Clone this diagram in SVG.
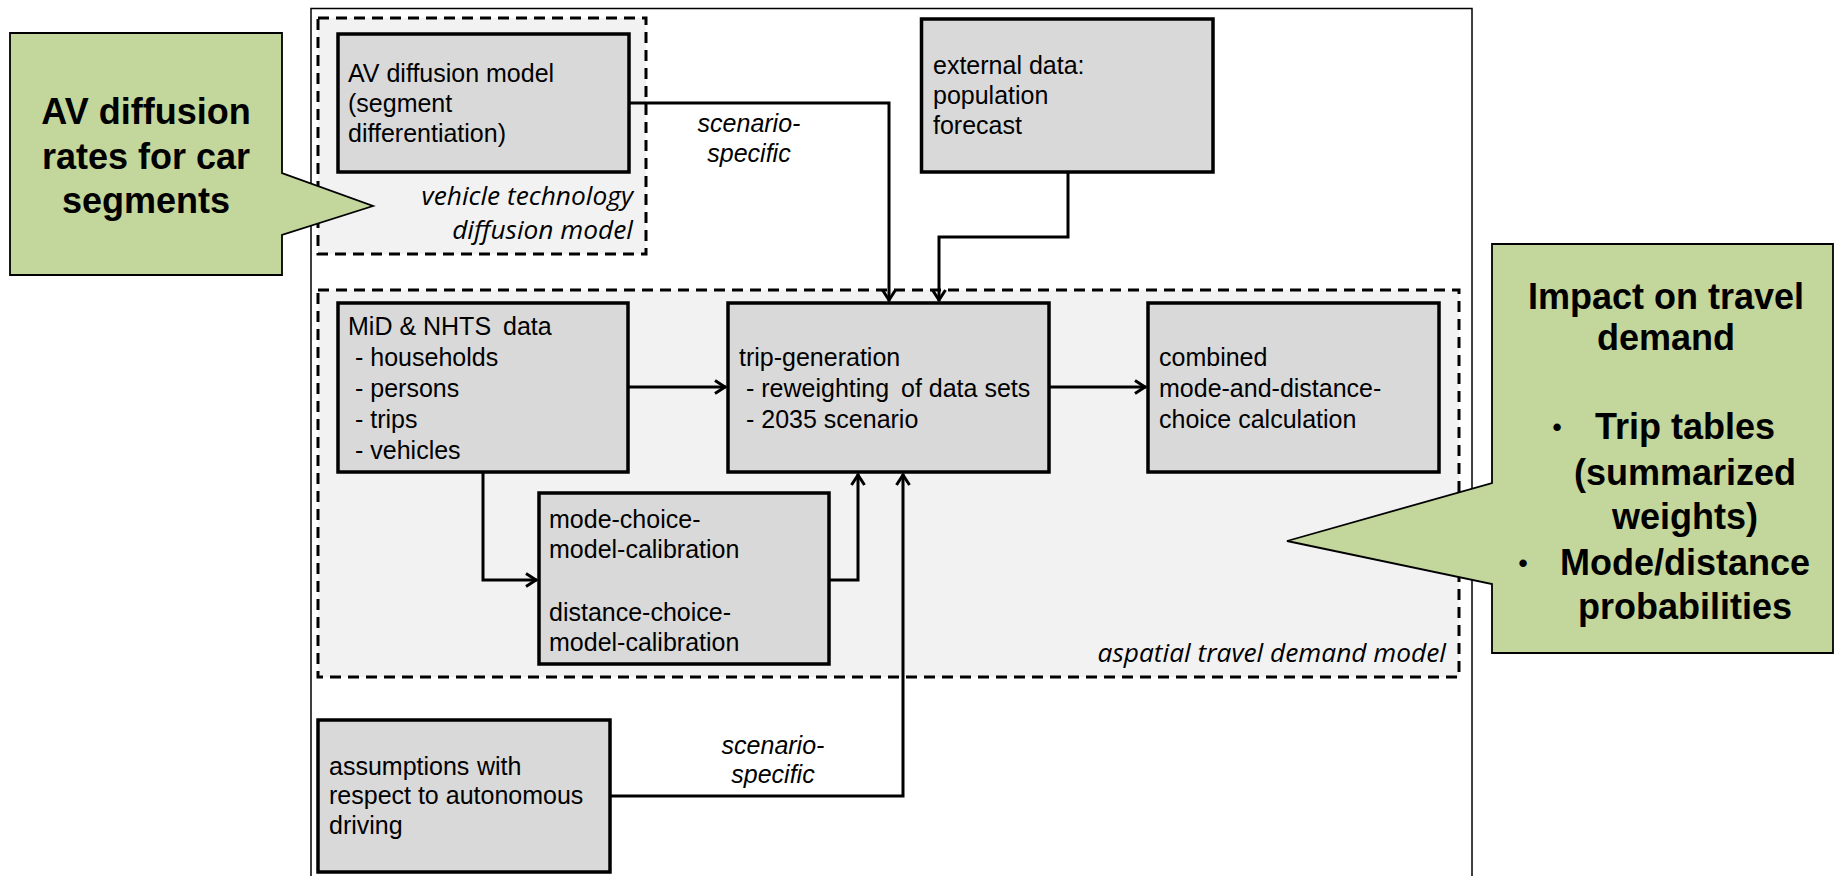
<svg xmlns="http://www.w3.org/2000/svg" width="1835" height="876" viewBox="0 0 1835 876">
<style>
.frame{fill:#fff;stroke:#000;stroke-width:1.5}
.cont{fill:#f2f2f2;stroke:#000;stroke-width:3;stroke-dasharray:11 7}
.node{fill:#d9d9d9;stroke:#000;stroke-width:3.5}
.t{font-family:"Liberation Sans",Arial,sans-serif;font-size:25px;fill:#000}
.it{font-family:"Liberation Sans",Arial,sans-serif;font-size:25px;font-style:italic;fill:#000;text-anchor:middle}
.ct{font-family:"Open Sans","DejaVu Sans",sans-serif;font-size:26.3px;font-style:italic;fill:#000;text-anchor:end}
.conn{fill:none;stroke:#000;stroke-width:3}
.call{fill:#c3d69b;stroke:#000;stroke-width:1.8}
.cb{font-family:"Liberation Sans",Arial,sans-serif;font-size:36px;font-weight:bold;fill:#000;text-anchor:middle}
.bul{font-family:"Liberation Sans",Arial,sans-serif;font-size:26px;font-weight:bold;fill:#000;text-anchor:middle}
</style>
<defs>
<marker id="arr" markerUnits="userSpaceOnUse" markerWidth="16" markerHeight="16" viewBox="-13 -8 16 16" refX="0" refY="0" orient="auto">
<path d="M-11,-6.5 L-1,0 L-11,6.5" fill="none" stroke="#000" stroke-width="3"/>
</marker>
</defs>
<rect class="frame" x="311" y="8.5" width="1161" height="900"/>
<g id="container-vehicle">
<rect class="cont" x="318" y="18" width="328" height="236"/>
<text class="ct"><tspan x="633" y="205">vehicle technology</tspan><tspan x="633" y="239">diffusion model</tspan></text>
</g>
<g id="container-aspatial">
<rect class="cont" x="318" y="290" width="1141" height="387"/>
<text class="ct" x="1446" y="662">aspatial travel demand model</text>
</g>
<g id="connectors">
<path class="conn" d="M629,103 H889 V301" marker-end="url(#arr)"/>
<path class="conn" d="M1068,172 V237 H939 V301" marker-end="url(#arr)"/>
<path class="conn" d="M628,387 H726" marker-end="url(#arr)"/>
<path class="conn" d="M1049,387 H1146" marker-end="url(#arr)"/>
<path class="conn" d="M483,472 V580 H537" marker-end="url(#arr)"/>
<path class="conn" d="M829,580 H858 V474" marker-end="url(#arr)"/>
<path class="conn" d="M610,796 H903 V474" marker-end="url(#arr)"/>
<text class="it"><tspan x="749" y="132">scenario-</tspan><tspan x="749" y="162">specific</tspan></text>
<text class="it"><tspan x="773" y="754">scenario-</tspan><tspan x="773" y="783">specific</tspan></text>
</g>
<g id="node-av">
<rect class="node" x="338" y="34" width="291" height="138"/>
<text class="t"><tspan x="348" y="82">AV diffusion model</tspan><tspan x="348" y="112">(segment</tspan><tspan x="348" y="142">differentiation)</tspan></text>
</g>
<g id="node-external">
<rect class="node" x="921.5" y="19" width="291.5" height="153"/>
<text class="t"><tspan x="933" y="74">external data:</tspan><tspan x="933" y="104">population</tspan><tspan x="933" y="134">forecast</tspan></text>
</g>
<g id="node-mid">
<rect class="node" x="338" y="303" width="290" height="169"/>
<text class="t"><tspan x="348" y="335">MiD &amp; NHTS</tspan><tspan x="503" y="335">data</tspan><tspan x="355" y="366">- households</tspan><tspan x="355" y="397">- persons</tspan><tspan x="355" y="428">- trips</tspan><tspan x="355" y="459">- vehicles</tspan></text>
</g>
<g id="node-tripgen">
<rect class="node" x="728" y="303" width="321" height="169"/>
<text class="t"><tspan x="739" y="366">trip-generation</tspan><tspan x="746" y="397">- reweighting</tspan><tspan x="901" y="397">of data sets</tspan><tspan x="746" y="428">- 2035 scenario</tspan></text>
</g>
<g id="node-combined">
<rect class="node" x="1148" y="303" width="291" height="169"/>
<text class="t"><tspan x="1159" y="366">combined</tspan><tspan x="1159" y="397">mode-and-distance-</tspan><tspan x="1159" y="428">choice calculation</tspan></text>
</g>
<g id="node-calibration">
<rect class="node" x="539" y="493" width="290" height="171"/>
<text class="t"><tspan x="549" y="528">mode-choice-</tspan><tspan x="549" y="558">model-calibration</tspan><tspan x="549" y="621">distance-choice-</tspan><tspan x="549" y="651">model-calibration</tspan></text>
</g>
<g id="node-assumptions">
<rect class="node" x="318" y="720" width="292" height="152"/>
<text class="t"><tspan x="329" y="775">assumptions</tspan><tspan x="477" y="775">with</tspan><tspan x="329" y="804">respect to autonomous</tspan><tspan x="329" y="834">driving</tspan></text>
</g>
<g id="callout-left">
<path class="call" d="M10,33 H282 V173 L373,206 L282,235 V275 H10 Z"/>
<text class="cb"><tspan x="146" y="124">AV diffusion</tspan><tspan x="146" y="169">rates for car</tspan><tspan x="146" y="213">segments</tspan></text>
</g>
<g id="callout-right">
<path class="call" d="M1492,244 H1833 V653 H1492 V584 L1287,541 L1492,483 Z"/>
<text class="cb"><tspan x="1666" y="309">Impact on travel</tspan><tspan x="1666" y="350">demand</tspan></text>
<text class="bul"><tspan x="1557" y="436">•</tspan><tspan x="1523" y="572">•</tspan></text>
<text class="cb"><tspan x="1685" y="439">Trip tables</tspan><tspan x="1685" y="485">(summarized</tspan><tspan x="1685" y="529">weights)</tspan><tspan x="1685" y="575">Mode/distance</tspan><tspan x="1685" y="619">probabilities</tspan></text>
</g>
</svg>
